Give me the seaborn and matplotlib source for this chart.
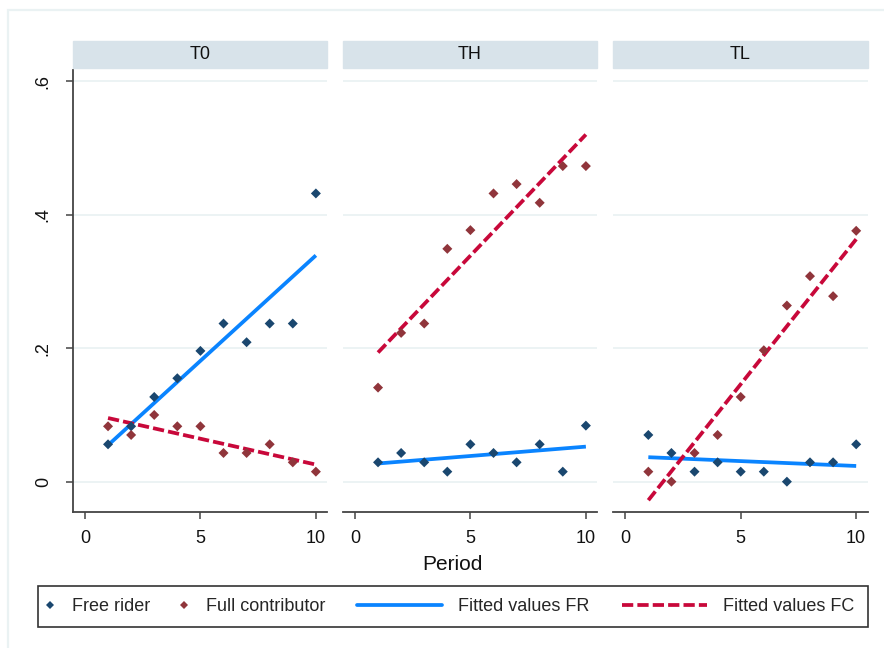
import numpy as np
import pandas as pd
import seaborn as sns
import matplotlib.pyplot as plt
from matplotlib.lines import Line2D
from matplotlib.patches import Rectangle

sns.set_style("white")
plt.rcParams['font.family'] = ['Liberation Sans', 'DejaVu Sans']

# data
periods = [1, 2, 3, 4, 5, 6, 7, 8, 9, 10]
treatments = ["T0", "TH", "TL"]
free_rider = {
    "T0": [0.056, 0.083, 0.127, 0.155, 0.196, 0.237, 0.209, 0.237, 0.237, 0.432],
    "TH": [0.029, 0.043, 0.029, 0.015, 0.056, 0.043, 0.029, 0.056, 0.015, 0.084],
    "TL": [0.070, 0.043, 0.015, 0.029, 0.015, 0.015, 0.000, 0.029, 0.029, 0.056],
}
full_contributor = {
    "T0": [0.083, 0.070, 0.100, 0.083, 0.083, 0.043, 0.043, 0.056, 0.029, 0.015],
    "TH": [0.141, 0.223, 0.237, 0.349, 0.377, 0.432, 0.446, 0.418, 0.473, 0.473],
    "TL": [0.015, 0.000, 0.043, 0.070, 0.127, 0.197, 0.264, 0.308, 0.278, 0.376],
}
yticks = [0, 0.2, 0.4, 0.6]
yticklabels = ["0", ".2", ".4", ".6"]
xticks = [0, 5, 10]

rows = []
for t in treatments:
    for p, fr, fc in zip(periods, free_rider[t], full_contributor[t]):
        rows.append({"treatment": t, "period": p, "type": "Free rider", "share": fr})
        rows.append({"treatment": t, "period": p, "type": "Full contributor", "share": fc})
data = pd.DataFrame(rows)

col_fr = "#1a476f"
col_fc = "#90353b"
col_fit_fr = "#0a84ff"
col_fit_fc = "#c8083a"
grid_col = "#eaf2f3"
axis_col = "#444444"
fit_lw = 2.7
fc_dash = (3.0, 1.1)

W, H = 884, 648
fig = plt.figure(figsize=(W / 100, H / 100), dpi=100)

# faint outer frame of the graph region
fig.patches.append(Rectangle((8 / W, -0.1), 1.2, (H - 10) / H + 0.1, transform=fig.transFigure,
                             fill=False, edgecolor=grid_col, linewidth=1.6))

panel_left = [72.7, 342.7, 613]
panel_w = 254.5
ax_bottom, ax_top = 511.7, 70

for i, t in enumerate(treatments):
    ax = fig.add_axes([panel_left[i] / W, (H - ax_bottom) / H, panel_w / W, (ax_bottom - ax_top) / H])
    sub = data[data["treatment"] == t]
    fr = sub[sub["type"] == "Free rider"]
    fc = sub[sub["type"] == "Full contributor"]

    for y in yticks:
        ax.axhline(y, color=grid_col, lw=1.3, zorder=0)

    sns.regplot(data=fr, x="period", y="share", ax=ax, scatter=False, ci=None,
                line_kws={"color": col_fit_fr, "lw": fit_lw, "zorder": 2, "solid_capstyle": "butt"})
    sns.regplot(data=fc, x="period", y="share", ax=ax, scatter=False, ci=None,
                line_kws={"color": col_fit_fc, "lw": fit_lw, "dashes": fc_dash, "zorder": 2})
    sns.scatterplot(data=sub, x="period", y="share", hue="type", ax=ax, marker="D", s=26,
                    linewidth=0, palette={"Free rider": col_fr, "Full contributor": col_fc},
                    legend=False, zorder=3)

    ax.set_xlim(-0.53, 10.49)
    ax.set_ylim(-0.045, 0.617)
    ax.set_xticks(xticks)
    ax.set_xticklabels([str(x) for x in xticks], fontsize=13, color="#111111")
    ax.set_xlabel("")
    ax.set_ylabel("")
    ax.tick_params(axis="x", length=5, width=1.1, color=axis_col, pad=8, bottom=True)
    for s in ["top", "right"]:
        ax.spines[s].set_visible(False)
    ax.spines["bottom"].set_color(axis_col)
    ax.spines["bottom"].set_linewidth(1.3)
    if i == 0:
        ax.set_yticks(yticks)
        ax.set_yticklabels(yticklabels, fontsize=13, rotation=90, va="center", color="#111111")
        ax.tick_params(axis="y", length=5, width=1.1, color=axis_col, pad=10, left=True)
        ax.spines["left"].set_color(axis_col)
        ax.spines["left"].set_linewidth(1.3)
    else:
        ax.set_yticks([])
        ax.spines["left"].set_visible(False)

    # strip header
    fig.patches.append(Rectangle((panel_left[i] / W, (H - 68) / H), panel_w / W, 27 / H,
                                 transform=fig.transFigure, color="#d8e3ea", zorder=0))
    fig.text((panel_left[i] + panel_w / 2) / W, (H - 54.5) / H, t, ha="center", va="center",
             fontsize=13, color="#111111")

fig.text(452 / W, (H - 564) / H, "Period", ha="center", va="center", fontsize=15, color="#111111")

# legend: markers and fitted lines, inside one box
h_fr = Line2D([], [], color=col_fr, marker="D", ls="", markersize=4.2, markeredgewidth=0)
h_fc = Line2D([], [], color=col_fc, marker="D", ls="", markersize=4.2, markeredgewidth=0)
h_lfr = Line2D([], [], color=col_fit_fr, lw=fit_lw)
h_lfc = Line2D([], [], color=col_fit_fc, lw=fit_lw, dashes=fc_dash)
leg_y = (H - 606.5) / H
fig.legend([h_fr, h_fc], ["Free rider", "Full contributor"], loc="center left",
           bbox_to_anchor=(41 / W, leg_y), ncol=2, frameon=False, fontsize=13,
           handlelength=1.0, handletextpad=0.7, columnspacing=1.4, borderpad=0,
           borderaxespad=0)
fig.legend([h_lfr, h_lfc], ["Fitted values FR", "Fitted values FC"], loc="center left",
           bbox_to_anchor=(357 / W, leg_y), ncol=2, frameon=False, fontsize=13,
           handlelength=4.7, handletextpad=0.9, columnspacing=1.8, borderpad=0,
           borderaxespad=0)
fig.patches.append(Rectangle((38 / W, (H - 627) / H), 830 / W, 41 / H, transform=fig.transFigure,
                             fill=False, edgecolor="#333333", linewidth=1.2))

fig.savefig("out.png", dpi=100, facecolor="white")
